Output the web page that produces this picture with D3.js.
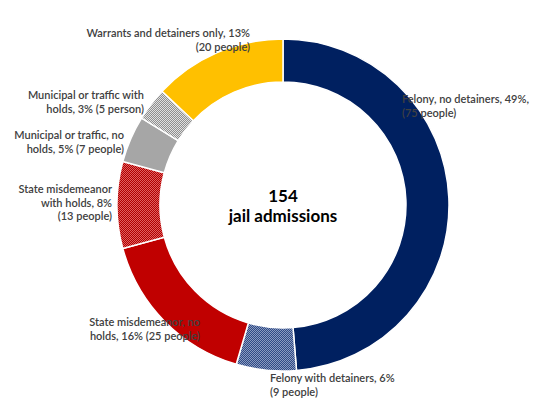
<!DOCTYPE html>
<html><head><script src="https://cdn.jsdelivr.net/npm/d3@7"></script>
<style>body{margin:0;background:#fff}text{font-family:Lato,sans-serif}</style></head>
<body><svg id="c" width="560" height="410"></svg>
<script>
const categories = ["Felony, no detainers", "Felony with detainers", "State misdemeanor, no holds",
  "State misdemeanor with holds", "Municipal or traffic, no holds", "Municipal or traffic with holds",
  "Warrants and detainers only"];
const people = [75, 9, 25, 13, 7, 5, 20];
const fills = ["#002060", "url(#pNavy)", "#c00000", "url(#pRed)", "#a6a6a6", "url(#pGray)", "#ffc000"];
// label lines, anchor, position (x,y of first line)
const labels = [
  [["Felony, no detainers, 49%,", "(75 people)"], "start", 402, 103],
  [["Felony with detainers, 6%", "(9 people)"], "start", 270, 382],
  [["State misdemeanor, no", "holds, 16% (25 people)"], "end", 200, 326],
  [["State misdemeanor", "with holds, 8%", "(13 people)"], "end", 112, 193],
  [["Municipal or traffic, no", "holds, 5% (7 people)"], "end", 124, 139],
  [["Municipal or traffic with", "holds, 3% (5 person)"], "end", 144, 99],
  [["Warrants and detainers only, 13%", "(20 people)"], "end", 250, 37]
];

const svg = d3.select("#c");
const defs = svg.append("defs");
[["pNavy", "#2f4a85", "#8a9bc0"], ["pRed", "#b00000", "#e06060"], ["pGray", "#8f8f8f", "#e0e0e0"]].forEach(([id, a, b]) => {
  const p = defs.append("pattern").attr("id", id).attr("width", 2).attr("height", 2).attr("patternUnits", "userSpaceOnUse");
  p.append("rect").attr("width", 2).attr("height", 2).attr("fill", a);
  p.append("rect").attr("width", 1).attr("height", 1).attr("fill", b);
  p.append("rect").attr("x", 1).attr("y", 1).attr("width", 1).attr("height", 1).attr("fill", b);
});

const cx = 283, cy = 205;
const pie = d3.pie().sort(null)(people);
const arc = d3.arc().innerRadius(123).outerRadius(166);
const g = svg.append("g").attr("transform", `translate(${cx},${cy})`);
g.selectAll("path").data(pie).join("path")
  .attr("d", arc).attr("fill", (d, i) => fills[i])
  .attr("stroke", "#fff").attr("stroke-width", 1.5);

labels.forEach(([lines, anchor, x, y]) => {
  const t = svg.append("text").attr("text-anchor", anchor).attr("x", x).attr("y", y)
    .attr("fill", "#404040").attr("font-size", 11).attr("font-weight", 600);
  lines.forEach((l, i) => t.append("tspan").attr("x", x).attr("dy", i ? 13.5 : 0).text(l));
});

const total = d3.sum(people);
svg.append("text").attr("x", cx).attr("y", 202).attr("text-anchor", "middle")
  .attr("font-size", 17).attr("font-weight", 700).attr("fill", "#000").text(total);
svg.append("text").attr("x", cx).attr("y", 222).attr("text-anchor", "middle")
  .attr("font-size", 17).attr("font-weight", 700).attr("fill", "#000").text("jail admissions");
</script></body></html>
